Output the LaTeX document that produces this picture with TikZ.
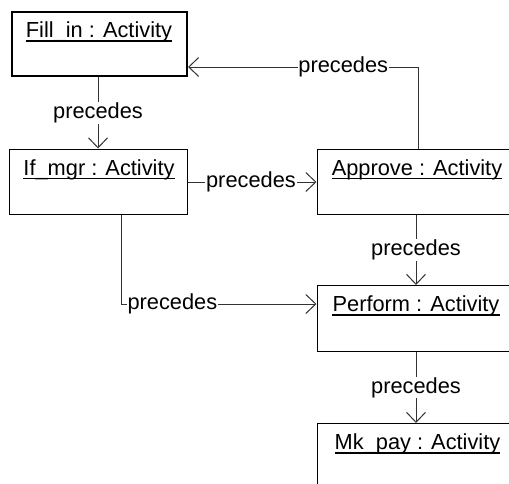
\documentclass[tikz,border=0pt]{standalone}
\usepackage{fontspec}
\setmainfont{Liberation Sans}
\usetikzlibrary{arrows.meta}
\definecolor{ln}{HTML}{333333}
\tikzset{
  box/.style={draw=black, line width=1pt, rectangle, inner sep=0pt, anchor=north west},
  title/.style={anchor=base, inner sep=0pt, font=\fontsize{21.8}{24}\selectfont},
  lbl/.style={fill=white, inner sep=0.8pt, font=\fontsize{21.8}{24}\selectfont},
  conn/.style={draw=ln, line width=1pt, -{Straight Barb[length=10pt,width=19pt,line width=1pt]}},
  uln/.style={line width=1.4pt, black}
}
\newcommand{\ul}[1]{\draw[uln] ([yshift=-3.5pt]#1.base west) -- ([yshift=-3.5pt]#1.base east);}
\begin{document}
\begin{tikzpicture}[x=1pt,y=-1pt]
\clip (0,0) rectangle (509,483);
\fill[white] (0,0) rectangle (509,483);
% boxes
\node[box, line width=2pt, minimum width=175pt, minimum height=64pt] (fill) at (11,11) {};
\node[box, minimum width=178pt, minimum height=65pt] (ifm) at (9,148.5) {};
\node[box, minimum width=200pt, minimum height=65pt] (appr) at (316.5,148.5) {};
\node[box, minimum width=200pt, minimum height=66pt] (perf) at (316.5,285) {};
\node[box, minimum width=200pt, minimum height=66pt] (mkp) at (316.5,423) {};
% titles
\node[title] (tfill) at (99,37.5) {Fill\_in : Activity};
\node[title] (tifm) at (99,175) {If\_mgr : Activity};
\node[title] (tappr) at (417,175) {Approve : Activity};
\node[title] (tperf) at (416,311.5) {Perform : Activity};
\node[title] (tmkp) at (417.5,449.5) {Mk\_pay : Activity};
\ul{tfill}\ul{tifm}\ul{tappr}\ul{tperf}\ul{tmkp}
% connectors
\coordinate (c1) at (418,67);
\coordinate (c2) at (121,304);
\draw[conn] (fill.south -| 98,0) -- node[lbl] (l1) {precedes} (ifm.north -| 98,0);
\draw[conn] (appr.north -| c1) -- (c1) -- node[lbl, pos=0.325] (l2) {precedes} (c1 -| fill.east);
\draw[conn] (ifm.east |- 0,182) -- node[lbl, pos=0.49] (l3) {precedes} (appr.west |- 0,182);
\draw[conn] (ifm.south -| c2) -- (c2) -- node[lbl, pos=0.263] (l4) {precedes} (c2 -| perf.west);
\draw[conn] (appr.south -| 416,0) -- node[lbl] (l5) {precedes} (perf.north -| 416,0);
\draw[conn] (perf.south -| 416,0) -- node[lbl] (l6) {precedes} (mkp.north -| 416,0);
\end{tikzpicture}
\end{document}
